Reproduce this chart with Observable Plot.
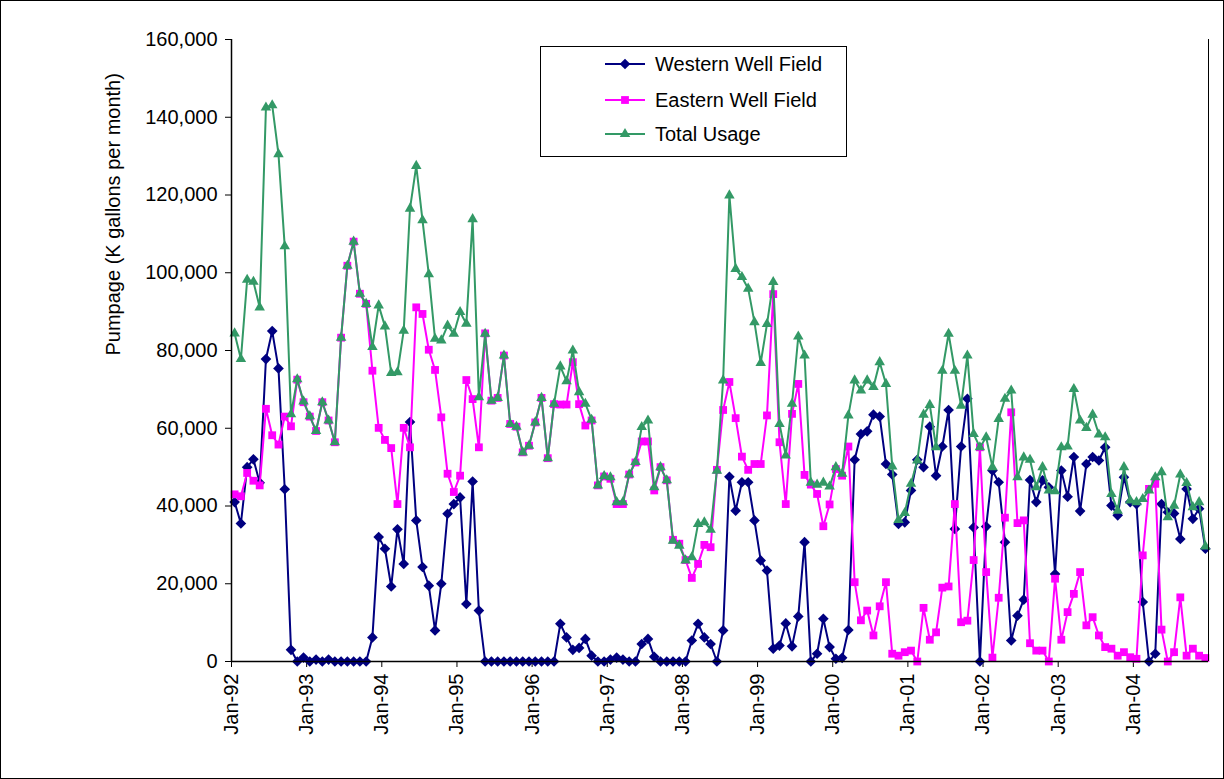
<!DOCTYPE html>
<html>
<head>
<meta charset="utf-8">
<script src="https://cdn.jsdelivr.net/npm/d3@7"></script>
<script src="https://cdn.jsdelivr.net/npm/@observablehq/plot@0.6"></script>
<style>
  html, body { margin: 0; padding: 0; background: #fff; }
  body { font-family: "Liberation Sans", Arial, sans-serif; }
  #wrap { position: relative; width: 1224px; height: 779px; overflow: hidden; background: #fff; }
  #wrap svg.chart { position: absolute; left: 0; top: 0; }
  #border { position: absolute; left: 0; top: 0; width: 1224px; height: 779px; box-sizing: border-box; border: 1px solid #000; pointer-events: none; }
  #legend { position: absolute; left: 540px; top: 46px; width: 307px; height: 111px; box-sizing: border-box;
            border: 1px solid #000; background: #fff; font-size: 20px; color: #000; }
  .lrow { position: absolute; left: 0; height: 30px; display: flex; align-items: center; }
  .lrow svg { width: 112px; height: 30px; flex: none; }
  .lrow span { margin-left: 2px; white-space: nowrap; }
</style>
</head>
<body>
<div id="wrap">
  <div id="chart"></div>
  <div id="legend"></div>
  <div id="border"></div>
</div>
<script>
// ---------------- data (monthly, Jan-92 .. Dec-04) ----------------
const tickLabels = ["Jan-92","Jan-93","Jan-94","Jan-95","Jan-96","Jan-97","Jan-98","Jan-99","Jan-00","Jan-01","Jan-02","Jan-03","Jan-04"];
const yTicks = [0, 20000, 40000, 60000, 80000, 100000, 120000, 140000, 160000];
const seriesNames = ["Western Well Field", "Eastern Well Field", "Total Usage"];

const western = [
  41000, 35500, 50000, 52000, 46000, 77800, 85000, 75400, 44300, 3000,
  0, 1000, 0, 500, 0, 500, 0, 0, 0, 0,
  0, 0, 6200, 32000, 29000, 19300, 34000, 25100, 61600, 36300,
  24300, 19500, 8000, 20000, 38000, 40500, 42200, 14800, 46300, 13100,
  0, 0, 0, 0, 0, 0, 0, 0, 0, 0,
  0, 0, 9700, 6200, 3000, 3500, 5800, 1500, 0, 0,
  500, 1000, 500, 0, 0, 4500, 5800, 1200, 0, 0,
  0, 0, 0, 5400, 9700, 6200, 4500, 0, 8000, 47500,
  38800, 46100, 46100, 36300, 26000, 23400, 3300, 4100, 9800, 3900,
  11600, 30700, 0, 2000, 11000, 3700, 700, 950, 8100, 51900,
  58500, 59200, 63500, 63000, 50800, 48100, 35400, 35800, 44000, 51900,
  50000, 60400, 47800, 55300, 64700, 34100, 55300, 67600, 34500, 0,
  34700, 49100, 46100, 30700, 5400, 11800, 15900, 46700, 41000, 46600,
  44800, 22500, 49100, 42400, 52600, 38700, 50800, 52600, 51700, 55100,
  40100, 37600, 47400, 41000, 40500, 15300, 0, 2000, 40500, 38400,
  38100, 31500, 44400, 36700, 39300, 29000
];

const eastern = [
  43000, 42500, 48500, 46500, 45300, 65000, 58200, 55800, 63000, 60500,
  72500, 66700, 63000, 59300, 66700, 62000, 56400, 83300, 101800, 108000,
  94600, 92000, 74800, 60100, 57000, 54900, 40500, 60100, 55100, 91100,
  89400, 80200, 75000, 62800, 48300, 43600, 47800, 72400, 67500, 55100,
  84400, 67100, 67800, 78700, 61100, 60400, 53800, 55500, 61500, 67800,
  52300, 66200, 66100, 66100, 77000, 66200, 60700, 62000, 45300, 47600,
  47000, 40500, 40500, 48100, 51200, 56600, 56600, 44000, 50000, 46600,
  31300, 30300, 26100, 21500, 25100, 30000, 29400, 49300, 64700, 71900,
  62600, 52700, 49300, 50800, 50800, 63300, 94500, 56400, 40500, 63700,
  71400, 48000, 45500, 43100, 34800, 40400, 49500, 47800, 55300, 20400,
  10600, 13100, 6700, 14200, 20400, 2000, 1500, 2400, 2800, 0,
  13800, 5600, 7500, 19000, 19300, 40500, 10100, 10500, 26100, 55100,
  23000, 1000, 16400, 37000, 64100, 35600, 36300, 4700, 2800, 2800,
  0, 21300, 5600, 12700, 17400, 23000, 9300, 11400, 6700, 3700,
  3300, 1500, 2400, 1100, 700, 27300, 44400, 45700, 8200, 0,
  2400, 16500, 1500, 3300, 1500, 900
];

const total = [
  84400, 77800, 98200, 97700, 91100, 142500, 143100, 130500, 106800, 63600,
  72600, 66900, 63100, 59300, 66700, 62000, 56400, 83300, 101800, 108000,
  94600, 92000, 80900, 91600, 86200, 74200, 74400, 85100, 116500, 127500,
  113500, 99600, 83000, 82600, 86400, 84300, 89900, 86900, 113800, 68000,
  84300, 67100, 67800, 78700, 61100, 60400, 53800, 55500, 61500, 67800,
  52300, 66300, 75900, 72100, 80000, 69300, 66300, 62200, 45300, 47700,
  47400, 41000, 41000, 48100, 51300, 60300, 62000, 44800, 50000, 46600,
  31100, 29800, 26000, 26800, 35400, 35800, 33900, 49100, 72300, 119900,
  101000, 98900, 95900, 87300, 76800, 86800, 97600, 61100, 53000, 66300,
  83600, 78700, 46000, 45500, 46000, 45000, 50000, 48300, 63300, 72300,
  69700, 72300, 70600, 77000, 71400, 50200, 36400, 38200, 45700, 51700,
  63500, 66000, 55100, 74800, 84300, 74800, 65800, 78700, 58500, 55100,
  57700, 50000, 62400, 67600, 69700, 47400, 52500, 51900, 44800, 50000,
  44000, 43800, 55100, 55300, 70100, 62000, 60100, 63500, 58400, 57700,
  43100, 38800, 50000, 41400, 41000, 41800, 44000, 47400, 48700, 37100,
  40100, 48100, 45900, 39700, 41000, 29600
];

// ---------------- build rows ----------------
const seriesValues = [western, eastern, total];
const rows = [];
seriesValues.forEach((vals, s) => vals.forEach((v, i) => rows.push({ i, v, series: seriesNames[s] })));

const styles = {
  "Western Well Field": { color: "#000080", symbol: "diamond2", r: 4.8 },
  "Eastern Well Field": { color: "#FF00FF", symbol: "square", r: 4.4 },
  "Total Usage":        { color: "#339966", symbol: "triangle", r: 3.9 }
};

const n = western.length;
const xTicks = tickLabels.map((_, k) => k * 12 - 0.5);

const marks = [];
for (const name of seriesNames) {
  const st = styles[name];
  const d = rows.filter(r => r.series === name);
  marks.push(Plot.line(d, { x: "i", y: "v", stroke: st.color, strokeWidth: 2, strokeLinejoin: "round" }));
  marks.push(Plot.dot(d, { x: "i", y: "v", symbol: () => st.symbol, r: st.r, fill: st.color, stroke: "none" }));
}

const chart = Plot.plot({
  width: 1224,
  height: 779,
  marginLeft: 231,
  marginRight: 16,
  marginTop: 39,
  marginBottom: 118,
  style: { fontFamily: '"Liberation Sans", Arial, sans-serif', background: "transparent", color: "#000" },
  x: { type: "linear", domain: [-0.5, n - 0.5] },
  y: { domain: [0, 160000] },
  symbol: { type: "identity" },
  marks: [
    Plot.axisY({ ticks: yTicks, tickFormat: d3.format(","), tickSize: 6, tickPadding: 8, fontSize: 20, label: null, stroke: "#000" }),
    Plot.axisX({ ticks: xTicks, tickFormat: (d, k) => tickLabels[k], tickRotate: -90, tickSize: 6, tickPadding: 6, fontSize: 20, label: null, stroke: "#000" }),
    Plot.text(["Pumpage (K gallons per month)"], { frameAnchor: "left", rotate: -90, dx: -118, dy: 5, fontSize: 20, fill: "#000" }),
    ...marks,
    Plot.ruleX([-0.5], { stroke: "#000", strokeWidth: 1.5 }),
    Plot.ruleY([0], { stroke: "#000", strokeWidth: 1.5 }),
    Plot.ruleX([n - 0.5], { stroke: "#000", strokeWidth: 1 })
  ]
});
chart.classList.add("chart");
document.getElementById("chart").appendChild(chart);

// ---------------- legend ----------------
const legend = document.getElementById("legend");
const legendTops = [2, 38, 72];
seriesNames.forEach((name, k) => {
  const st = styles[name];
  const row = document.createElement("div");
  row.className = "lrow";
  row.style.top = legendTops[k] + "px";
  const svg = d3.create("svg").attr("width", 112).attr("height", 30);
  svg.append("line").attr("x1", 64).attr("x2", 104).attr("y1", 15).attr("y2", 15)
    .attr("stroke", st.color).attr("stroke-width", 2);
  const sym = { diamond2: d3.symbolDiamond2, square: d3.symbolSquare, triangle: d3.symbolTriangle }[st.symbol];
  svg.append("path").attr("transform", "translate(84,15)")
    .attr("d", d3.symbol(sym, Math.PI * st.r * st.r)()).attr("fill", st.color);
  row.appendChild(svg.node());
  const sp = document.createElement("span");
  sp.textContent = name;
  row.appendChild(sp);
  legend.appendChild(row);
});
</script>
</body>
</html>
